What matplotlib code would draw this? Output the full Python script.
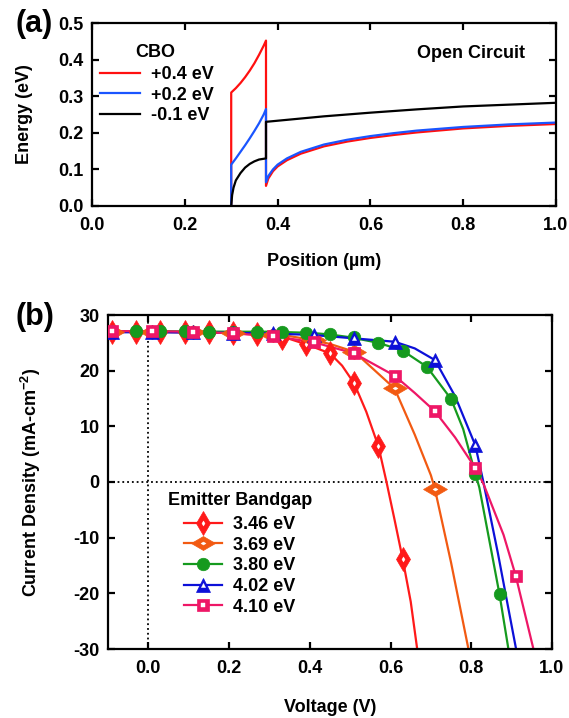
import matplotlib
matplotlib.use('Agg')
import matplotlib.pyplot as plt
from matplotlib.lines import Line2D
from matplotlib.markers import MarkerStyle
from matplotlib.transforms import Affine2D

plt.rcParams['font.family'] = ['Liberation Sans', 'DejaVu Sans']
plt.rcParams['font.weight'] = 'bold'
plt.rcParams['axes.unicode_minus'] = False
plt.rcParams['mathtext.fontset'] = 'custom'
plt.rcParams['mathtext.rm'] = 'Liberation Sans:bold'
plt.rcParams['mathtext.default'] = 'rm'

# ---- panel (a): conduction band edge vs position ----
pos_red = [0.3, 0.3, 0.31, 0.32, 0.33, 0.34, 0.35, 0.36, 0.37, 0.375,
           0.375, 0.38, 0.39, 0.40, 0.42, 0.45, 0.5, 0.55, 0.6, 0.65, 0.7, 0.8, 0.9, 1.0]
e_red = [0.0, 0.31, 0.322, 0.336, 0.352, 0.37, 0.39, 0.413, 0.438, 0.452,
         0.055, 0.075, 0.095, 0.108, 0.125, 0.143, 0.163, 0.176, 0.186, 0.194, 0.201, 0.212, 0.219, 0.224]
pos_blue = [0.3, 0.3, 0.31, 0.32, 0.33, 0.34, 0.35, 0.36, 0.37, 0.375,
            0.375, 0.38, 0.39, 0.40, 0.42, 0.45, 0.5, 0.55, 0.6, 0.65, 0.7, 0.8, 0.9, 1.0]
e_blue = [0.0, 0.113, 0.13, 0.148, 0.166, 0.185, 0.205, 0.226, 0.25, 0.265,
          0.065, 0.082, 0.1, 0.113, 0.13, 0.148, 0.168, 0.181, 0.191, 0.199, 0.206, 0.216, 0.223, 0.228]
pos_black = [0.3, 0.302, 0.305, 0.31, 0.32, 0.33, 0.34, 0.35, 0.36, 0.375,
             0.375, 0.4, 0.5, 0.6, 0.7, 0.8, 0.9, 1.0]
e_black = [0.0, 0.03, 0.05, 0.07, 0.09, 0.105, 0.115, 0.122, 0.127, 0.13,
           0.23, 0.233, 0.245, 0.255, 0.264, 0.272, 0.277, 0.282]
cbo_labels = ['+0.4 eV', '+0.2 eV', '-0.1 eV']

# ---- panel (b): J-V curves ----
gap_labels = ['3.46 eV', '3.69 eV', '3.80 eV', '4.02 eV', '4.10 eV']

v_line_346 = [-0.1, 0.0, 0.1, 0.2, 0.3, 0.35, 0.4, 0.45, 0.48, 0.51, 0.54, 0.57, 0.59, 0.61, 0.63, 0.65, 0.666]
j_line_346 = [27.0, 27.0, 26.9, 26.8, 26.3, 25.7, 24.5, 23.1, 20.9, 17.7, 12.6, 6.4, 0.0, -6.8, -13.8, -21.5, -30.0]
v_mk_346 = [-0.09, -0.03, 0.03, 0.09, 0.15, 0.21, 0.27, 0.33, 0.39, 0.45, 0.51, 0.57, 0.63]
j_mk_346 = [27.0, 27.0, 27.0, 26.9, 26.9, 26.8, 26.5, 25.9, 24.8, 23.1, 17.7, 6.4, -13.8]

v_line_369 = [-0.1, 0.0, 0.1, 0.2, 0.3, 0.35, 0.4, 0.45, 0.51, 0.56, 0.61, 0.66, 0.70, 0.71, 0.75, 0.793]
j_line_369 = [27.0, 27.0, 26.9, 26.8, 26.5, 26.2, 25.6, 24.8, 23.4, 20.1, 16.8, 8.5, 1.2, -1.3, -14.5, -30.0]
v_mk_369 = [-0.09, 0.01, 0.11, 0.21, 0.31, 0.41, 0.51, 0.61, 0.71]
j_mk_369 = [27.0, 27.0, 26.9, 26.8, 26.4, 25.5, 23.4, 16.8, -1.3]

v_line_380 = [-0.1, 0.0, 0.2, 0.3, 0.4, 0.45, 0.5, 0.57, 0.63, 0.69, 0.75, 0.78, 0.805, 0.82, 0.85, 0.87, 0.892]
j_line_380 = [27.1, 27.1, 27.0, 27.0, 26.8, 26.5, 26.0, 25.0, 23.6, 20.7, 14.9, 9.5, 2.8, -1.0, -12.5, -20.2, -30.0]
v_mk_380 = [-0.03, 0.03, 0.09, 0.15, 0.21, 0.27, 0.33, 0.39, 0.45, 0.51, 0.57, 0.63, 0.69, 0.75, 0.81, 0.87]
j_mk_380 = [27.1, 27.1, 27.1, 27.0, 27.0, 27.0, 26.9, 26.8, 26.5, 26.0, 25.0, 23.6, 20.7, 14.9, 1.5, -20.2]

v_line_402 = [-0.1, 0.0, 0.2, 0.3, 0.41, 0.51, 0.61, 0.66, 0.71, 0.76, 0.81, 0.83, 0.866, 0.89, 0.911]
j_line_402 = [26.9, 26.9, 26.8, 26.7, 26.4, 25.8, 25.2, 24.0, 21.9, 15.4, 6.6, 0.0, -12.8, -22.0, -30.0]
v_mk_402 = [-0.09, 0.01, 0.11, 0.21, 0.31, 0.41, 0.51, 0.61, 0.71, 0.81]
j_mk_402 = [26.9, 26.9, 26.9, 26.8, 26.7, 26.4, 25.8, 25.2, 21.9, 6.6]

v_line_410 = [-0.1, 0.0, 0.11, 0.21, 0.31, 0.41, 0.51, 0.61, 0.66, 0.71, 0.76, 0.81, 0.83, 0.88, 0.91, 0.954]
j_line_410 = [27.1, 27.1, 27.0, 26.7, 26.2, 25.1, 23.1, 19.1, 16.0, 12.7, 8.0, 2.5, -0.3, -9.5, -16.8, -30.0]
v_mk_410 = [-0.09, 0.01, 0.11, 0.21, 0.31, 0.41, 0.51, 0.61, 0.71, 0.81, 0.91]
j_mk_410 = [27.1, 27.1, 27.0, 26.7, 26.2, 25.1, 23.1, 19.1, 12.7, 2.5, -16.8]

W, H = 569, 718
fig = plt.figure(figsize=(W / 100, H / 100), dpi=100)


def box(l, t, r, b):
    # pixel box -> figure fraction
    return [l / W, 1 - b / H, (r - l) / W, (b - t) / H]


def style(ax):
    for s in ax.spines.values():
        s.set_linewidth(1.6)
    ax.tick_params(direction='in', length=5, width=1.6, top=True, right=True,
                   labelsize=13, pad=6)


# panel (a)
ax1 = fig.add_axes(box(92, 23, 556, 206))
ax1.plot(pos_red, e_red, color='#ff1010', lw=1.6)
ax1.plot(pos_blue, e_blue, color='#1a55ff', lw=1.6)
ax1.plot(pos_black, e_black, color='black', lw=1.6)
ax1.set_xlim(0, 1.0)
ax1.set_ylim(0, 0.5)
ax1.set_xticks([0, 0.2, 0.4, 0.6, 0.8, 1.0])
ax1.set_yticks([0, 0.1, 0.2, 0.3, 0.4, 0.5])
ax1.xaxis.set_major_formatter(matplotlib.ticker.FormatStrFormatter('%.1f'))
ax1.yaxis.set_major_formatter(matplotlib.ticker.FormatStrFormatter('%.1f'))
style(ax1)
ax1.tick_params(axis='x', pad=8)
ax1.set_xlabel('Position (µm)', fontsize=13, fontweight='bold')
ax1.xaxis.set_label_coords(0.5, -0.258)
ax1.set_ylabel('Energy (eV)', fontsize=13, fontweight='bold')
ax1.yaxis.set_label_coords(-0.127, 0.5)
h1 = [Line2D([], [], color=c, lw=1.6) for c in ['#ff1010', '#1a55ff', 'black']]
ax1.legend(h1, cbo_labels, loc='upper left', bbox_to_anchor=(0.018, 0.765),
           frameon=False, fontsize=13, handlelength=2.2, handletextpad=0.6,
           labelspacing=0.2, borderpad=0, borderaxespad=0)
ax1.text(0.136, 0.84, 'CBO', transform=ax1.transAxes, fontsize=13,
         fontweight='bold', ha='center', va='center')
ax1.text(0.817, 0.836, 'Open Circuit', transform=ax1.transAxes, fontsize=13,
         fontweight='bold', ha='center', va='center')
fig.text(34 / W, 1 - 24 / H, '(a)', fontsize=22, fontweight='bold', ha='center', va='center')

# panel (b)
ax2 = fig.add_axes(box(108, 315, 552, 649))
ax2.axhline(0, color='black', ls=':', lw=1.3, zorder=1)
ax2.axvline(0, color='black', ls=':', lw=1.3, zorder=1)

hdiamond = MarkerStyle('d', transform=Affine2D().rotate_deg(90))
# (line x, line y, marker x, marker y, colour, marker, outer size, inner white size)
series = [
    (v_line_346, j_line_346, v_mk_346, j_mk_346, '#ff1a1a', 'd', 12, 2.6),
    (v_line_369, j_line_369, v_mk_369, j_mk_369, '#f25a12', hdiamond, 12, 2.6),
    (v_line_380, j_line_380, v_mk_380, j_mk_380, '#159a1e', 'o', 9, 0),
    (v_line_402, j_line_402, v_mk_402, j_mk_402, '#0c10d8', '^', 10.5, 3),
    (v_line_410, j_line_410, v_mk_410, j_mk_410, '#ee1766', 's', 8.5, 2.6),
]
handles = []
for vl, jl, vm, jm, c, m, ms, ms_in in series:
    ax2.plot(vl, jl, color=c, lw=1.6, zorder=2)
    ax2.plot(vm, jm, ls='none', marker=m, ms=ms, color=c, mec=c, mew=0.5, zorder=3)
    outer = Line2D([], [], color=c, lw=1.6, marker=m, ms=ms, mec=c, mew=0.5)
    if ms_in:
        ax2.plot(vm, jm, ls='none', marker=m, ms=ms_in, mfc='white', mec='white',
                 mew=0.3, zorder=3)
        inner = Line2D([], [], ls='none', marker=m, ms=ms_in, mfc='white', mec='white', mew=0.3)
        handles.append((outer, inner))
    else:
        handles.append(outer)

ax2.set_xlim(-0.1, 1.0)
ax2.set_ylim(-30, 30)
ax2.set_xticks([0, 0.2, 0.4, 0.6, 0.8, 1.0])
ax2.set_yticks([-30, -20, -10, 0, 10, 20, 30])
ax2.xaxis.set_major_formatter(matplotlib.ticker.FormatStrFormatter('%.1f'))
style(ax2)
ax2.tick_params(axis='x', pad=8)
ax2.set_xlabel('Voltage (V)', fontsize=13, fontweight='bold')
ax2.xaxis.set_label_coords(0.5, -0.15)
ax2.set_ylabel('Current Density (mA-cm$^{-2}$)', fontsize=13, fontweight='bold')
ax2.yaxis.set_label_coords(-0.147, 0.5)
ax2.legend(handles, gap_labels, loc='upper left', bbox_to_anchor=(0.172, 0.398),
           frameon=False, fontsize=13, handlelength=2.1, handletextpad=0.6,
           labelspacing=0.2, borderpad=0, borderaxespad=0)
ax2.text(0.297, 0.446, 'Emitter Bandgap', transform=ax2.transAxes, fontsize=13,
         fontweight='bold', ha='center', va='center')
fig.text(35 / W, 1 - 317 / H, '(b)', fontsize=22, fontweight='bold', ha='center', va='center')

fig.savefig('out.png', dpi=100)
